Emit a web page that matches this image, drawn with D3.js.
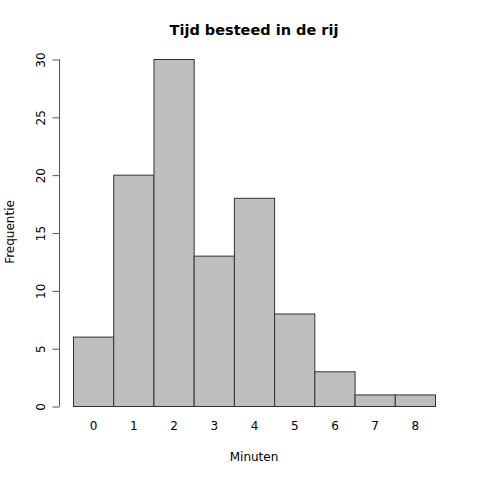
<!DOCTYPE html>
<html><head><meta charset="utf-8">
<script src="https://cdn.jsdelivr.net/npm/d3@7"></script>
<style>body{margin:0;background:#fff}svg{display:block;font-family:"DejaVu Sans",sans-serif}</style>
</head><body>
<svg id="c" width="480" height="480"></svg>
<script>
const categories = ["0","1","2","3","4","5","6","7","8"];
const values = [6, 20, 30, 13, 18, 8, 3, 1, 1];
const yTicks = [0, 5, 10, 15, 20, 25, 30];
const title = "Tijd besteed in de rij";
const xLabel = "Minuten";
const yLabel = "Frequentie";

const svg = d3.select("#c");
const x = d3.scaleBand().domain(categories).range([73.5, 435.5]).padding(0);
const y = d3.scaleLinear().domain([0, 30]).range([406.5, 59.5]);

svg.append("g").selectAll("rect").data(values).join("rect")
  .attr("x", (d,i) => x(categories[i]))
  .attr("y", d => y(d))
  .attr("width", x.bandwidth())
  .attr("height", d => y(0) - y(d))
  .attr("fill", "#bebebe")
  .attr("stroke", "#333")
  .attr("stroke-width", 1);

const yAxis = svg.append("g").attr("transform", "translate(59.5,0)")
  .call(d3.axisLeft(y).tickValues(yTicks).tickSize(7).tickPadding(6).tickFormat(d3.format("d")));
yAxis.select(".domain").attr("stroke", "#555").attr("d", `M0,${y(0)}V${y(30)}`);
yAxis.selectAll(".tick line").attr("stroke", "#555");
yAxis.selectAll(".tick text")
  .attr("font-size", 12).attr("fill", "#000")
  .attr("transform", "rotate(-90)")
  .attr("x", 0).attr("y", -15)
  .attr("dy", "0")
  .attr("text-anchor", "middle");
yAxis.attr("font-family", null);

const xAxis = svg.append("g").attr("transform", `translate(0,${y(0)})`)
  .call(d3.axisBottom(x).tickSize(0).tickPadding(15));
xAxis.select(".domain").remove();
xAxis.selectAll(".tick text").attr("font-size", 12).attr("fill", "#000");
xAxis.attr("font-family", null);

svg.append("text").attr("x", 254).attr("y", 35).attr("text-anchor", "middle")
  .attr("font-size", 14.5).attr("font-weight", "bold").text(title);
svg.append("text").attr("x", 254).attr("y", 461).attr("text-anchor", "middle")
  .attr("font-size", 12).text(xLabel);
svg.append("text").attr("transform", "translate(14,232) rotate(-90)").attr("text-anchor", "middle")
  .attr("font-size", 12).text(yLabel);
</script>
</body></html>
